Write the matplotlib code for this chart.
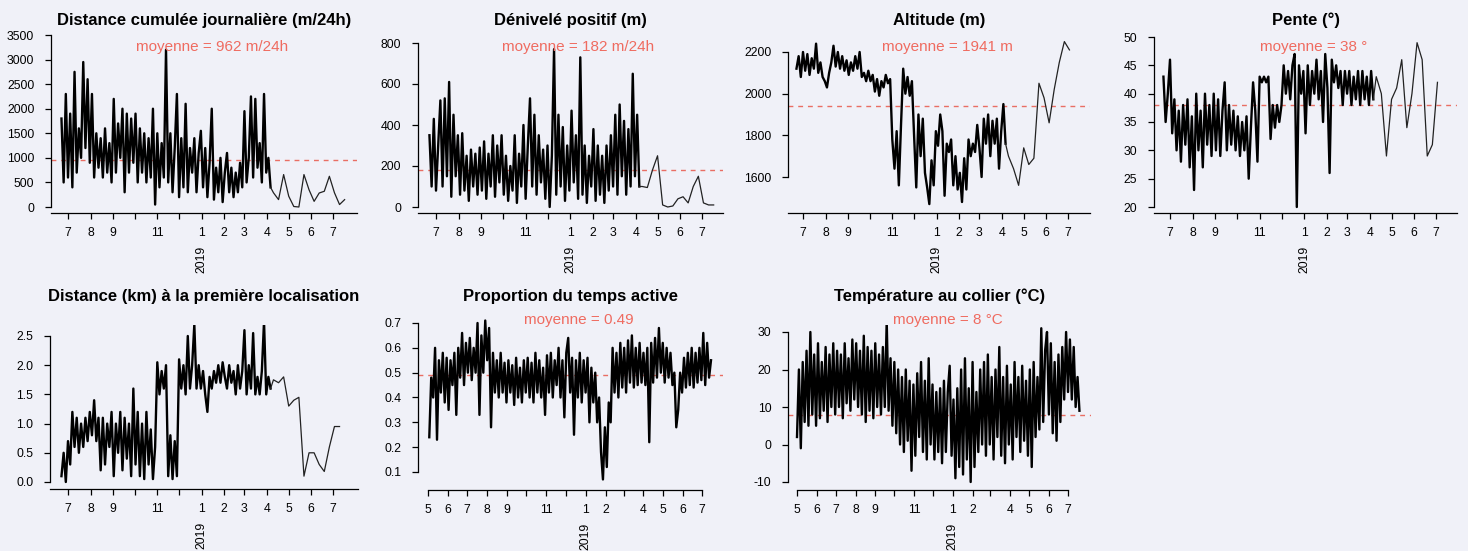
import pandas as pd
import matplotlib
matplotlib.use('Agg')
import matplotlib.pyplot as plt
import matplotlib.dates as mdates

plt.rcParams['font.family'] = ['Liberation Sans', 'DejaVu Sans']

W, H = 1468, 551
fond = '#f0f1f8'
rouge = '#e8574a'
rouge_txt = '#ef6b60'

# ---------------------------------------
# donnees (pas de 3 jours, puis hebdo a partir du 10/04/2019)
dist_j = [1800, 500, 2300, 600, 1900, 400, 2750, 700, 1600, 1000,
          2950, 1200, 2600, 900, 2300, 600, 1500, 800, 1400, 600,
          1600, 700, 1300, 500, 2200, 700, 1700, 1000, 2000, 300,
          1900, 700, 1800, 900, 1900, 500, 1600, 700, 1500, 500,
          1400, 600, 2000, 50, 1500, 400, 1300, 600, 3200, 500,
          1500, 300, 1200, 2300, 200, 1400, 400, 2100, 300, 1200,
          700, 1400, 300, 1100, 1550, 400, 1200, 200, 900, 2000,
          150, 800, 300, 1000, 100, 700, 1100, 300, 800, 200,
          700, 300, 900, 400, 1950, 500, 1000, 2250, 600, 2200,
          800, 1300, 500, 2300, 700, 1000, 400]
dist_j_fin = [290, 150, 660, 220, 10, 0, 660, 350, 115, 285, 320, 625, 290, 50, 150]

deniv = [350, 100, 430, 80, 300, 520, 100, 530, 150, 610,
         50, 450, 150, 350, 60, 360, 80, 250, 30, 280,
         100, 260, 60, 290, 80, 320, 40, 260, 100, 350,
         50, 300, 120, 350, 60, 250, 30, 200, 80, 350,
         20, 260, 100, 400, 40, 300, 530, 100, 450, 60,
         350, 120, 280, 40, 300, 0, 250, 770, 60, 450,
         100, 390, 30, 300, 80, 470, 120, 350, 40, 730,
         60, 300, 20, 250, 100, 380, 30, 300, 60, 250,
         20, 300, 80, 350, 100, 450, 60, 500, 150, 420,
         60, 380, 100, 650, 150, 450, 100]
deniv_fin = [100, 95, 180, 250, 10, 0, 5, 40, 50, 20, 100, 150, 20, 10, 10]

alt = [2120, 2180, 2080, 2200, 2110, 2190, 2090, 2170, 2120, 2240,
       2100, 2150, 2080, 2060, 2030, 2100, 2150, 2230, 2130, 2200,
       2120, 2180, 2110, 2160, 2090, 2150, 2110, 2180, 2120, 2200,
       2080, 2100, 2060, 2110, 2060, 2090, 2010, 2070, 1990, 2060,
       2030, 2090, 2050, 2070, 1780, 1640, 1820, 1560, 1850, 2120,
       2000, 2080, 1990, 2060, 1800, 1550, 1900, 1700, 1880, 1620,
       1550, 1470, 1680, 1560, 1820, 1750, 1900, 1820, 1510, 1760,
       1720, 1780, 1560, 1700, 1540, 1620, 1480, 1690, 1540, 1780,
       1700, 1760, 1720, 1850, 1740, 1600, 1880, 1760, 1900, 1700,
       1870, 1760, 1880, 1640, 1820, 1950, 1760]
alt_fin = [1700, 1640, 1560, 1740, 1660, 1690, 2050, 1980, 1860, 2020, 2150, 2250, 2210]

pente = [43, 35, 40, 46, 33, 39, 30, 37, 28, 38,
         31, 39, 27, 36, 23, 40, 30, 37, 27, 40,
         31, 38, 29, 40, 30, 39, 29, 37, 42, 30,
         38, 31, 37, 30, 36, 29, 35, 30, 36, 25,
         34, 42, 37, 28, 43, 42, 43, 42, 43, 32,
         38, 34, 38, 35, 38, 45, 40, 44, 39, 45,
         47, 20, 45, 40, 44, 33, 45, 38, 44, 40,
         46, 39, 44, 35, 47, 41, 26, 46, 42, 45,
         41, 44, 38, 44, 40, 44, 38, 43, 39, 44,
         38, 44, 39, 43, 38, 44, 39]
pente_fin = [43, 40, 29, 39, 41, 46, 34, 40, 49, 46, 29, 31, 42]

dist_km = [0.1, 0.5, 0.0, 0.7, 0.3, 1.2, 0.6, 1.1, 0.5, 1.0,
           0.6, 1.1, 0.7, 1.2, 0.8, 1.4, 0.7, 1.1, 0.2, 1.1,
           0.3, 1.0, 0.6, 1.2, 0.1, 1.0, 0.5, 1.2, 0.2, 1.1,
           0.4, 1.0, 0.1, 1.6, 0.3, 1.2, 0.1, 1.0, 0.05, 1.2,
           0.3, 0.9, 0.05, 0.6, 2.05, 1.5, 1.9, 1.6, 2.0, 0.1,
           0.8, 0.05, 0.7, 0.1, 2.1, 1.6, 2.0, 1.5, 2.5, 1.6,
           2.0, 2.7, 1.6, 2.0, 1.6, 1.9, 1.5, 1.2, 1.8, 1.6,
           1.9, 1.7, 2.0, 1.7, 2.05, 1.8, 1.6, 2.0, 1.7, 1.9,
           1.5, 2.0, 1.6, 1.9, 2.6, 1.5, 2.0, 1.6, 2.55, 1.5,
           1.8, 1.5, 1.9, 2.75, 1.5, 1.8, 1.6]
dist_km_fin = [1.75, 1.7, 1.8, 1.3, 1.4, 1.45, 0.1, 0.5, 0.5, 0.3, 0.18, 0.6, 0.95, 0.95]

# a partir du 03/05/2018, pas de 3 jours
actif = [0.24, 0.48, 0.40, 0.60, 0.23, 0.55, 0.42, 0.58, 0.38, 0.56,
         0.35, 0.55, 0.45, 0.58, 0.33, 0.60, 0.48, 0.66, 0.45, 0.62,
         0.50, 0.64, 0.47, 0.60, 0.50, 0.70, 0.33, 0.65, 0.50, 0.71,
         0.55, 0.68, 0.28, 0.58, 0.42, 0.55, 0.40, 0.58, 0.42, 0.54,
         0.38, 0.55, 0.42, 0.53, 0.37, 0.56, 0.40, 0.52, 0.38, 0.55,
         0.42, 0.56, 0.40, 0.54, 0.38, 0.58, 0.42, 0.55, 0.40, 0.52,
         0.33, 0.57, 0.42, 0.58, 0.40, 0.55, 0.45, 0.60, 0.40, 0.55,
         0.32, 0.58, 0.64, 0.42, 0.56, 0.25, 0.55, 0.40, 0.58, 0.38,
         0.55, 0.42, 0.56, 0.30, 0.52, 0.38, 0.50, 0.30, 0.40, 0.18,
         0.07, 0.28, 0.12, 0.38, 0.30, 0.60, 0.42, 0.58, 0.40, 0.62,
         0.44, 0.60, 0.42, 0.63, 0.46, 0.65, 0.44, 0.60, 0.45, 0.62,
         0.46, 0.58, 0.45, 0.60, 0.22, 0.62, 0.46, 0.64, 0.48, 0.68,
         0.50, 0.62, 0.46, 0.60, 0.48, 0.58, 0.45, 0.50, 0.28, 0.35,
         0.50, 0.42, 0.56, 0.44, 0.58, 0.45, 0.60, 0.44, 0.58, 0.46,
         0.60, 0.47, 0.66, 0.45, 0.62, 0.48, 0.55]

# a partir du 01/05/2018, pas de 3 jours
temp = [2, 20, -1, 22, 6, 25, 5, 30, 8, 24,
        5, 27, 7, 22, 9, 26, 6, 24, 10, 27,
        8, 25, 10, 24, 7, 27, 11, 23, 9, 28,
        12, 27, 10, 25, 8, 29, 6, 26, 9, 25,
        7, 27, 10, 24, 8, 26, 10, 33, 9, 23,
        5, 22, 3, 20, 0, 18, -2, 20, 1, 17,
        -7, 16, -3, 19, 2, 22, -2, 17, -4, 23,
        0, 16, -4, 14, -2, 15, -5, 17, -2, 14,
        21, -3, 12, -9, 15, -6, 20, -8, 23, -4,
        15, -10, 22, -6, 14, -2, 20, 0, 22, -3,
        24, 0, 18, -4, 20, 2, 26, -3, 18, -5,
        21, 0, 16, -4, 22, 2, 18, -2, 21, 1,
        17, -3, 20, -6, 22, 2, 18, 4, 31, 6,
        25, 30, 8, 27, 3, 22, 1, 24, 6, 26,
        12, 30, 14, 28, 12, 26, 10, 18, 9]

moyennes = {'dist': 962, 'deniv': 182, 'alt': 1941, 'pente': 38, 'actif': 0.49, 'temp': 8}

mois_haut = pd.date_range('2018-07-01', '2019-07-01', freq='MS')
mois_bas = pd.date_range('2018-05-01', '2019-07-01', freq='MS')
lab_haut = ['7', '8', '9', '', '11', '', '1', '2', '3', '4', '5', '6', '7']
lab_bas = ['5', '6', '7', '8', '9', '', '11', '', '1', '2', '', '4', '5', '6', '7']


def serie(debut, vals, vals_fin=None):
    # partie dense (tous les 3 jours) + partie hebdomadaire eventuelle
    d = mdates.date2num(pd.date_range(debut, periods=len(vals), freq='3D'))
    dense = (list(d), list(vals))
    if vals_fin is None:
        return dense, None
    df = mdates.date2num(pd.date_range('2019-04-10', periods=len(vals_fin), freq='7D'))
    fin = ([d[-1]] + list(df), [vals[-1]] + list(vals_fin))
    return dense, fin


def lin(p, p0, v0, p1, v1):
    return v0 + (p - p0) * (v1 - v0) / (p1 - p0)


fig = plt.figure(figsize=(W / 100, H / 100), dpi=100)
fig.patch.set_facecolor(fond)


def panneau(cadre, ycal, xcal, donnees, yticks, ylabs, mois, labs, titre, ytitre,
            moy=None, texte=None, ytexte=None, court=False):
    l, r, t, b = cadre
    ax = fig.add_axes([l / W, 1 - b / H, (r - l) / W, (b - t) / H])
    ax.set_facecolor('none')
    ax.set_ylim(lin(b, *ycal), lin(t, *ycal))
    p0, d0, p1, d1 = xcal
    d0 = mdates.date2num(pd.Timestamp(d0))
    d1 = mdates.date2num(pd.Timestamp(d1))
    ax.set_xlim(lin(l, p0, d0, p1, d1), lin(r, p0, d0, p1, d1))
    if moy is not None:
        ax.axhline(moy, color=rouge, lw=1.0, dashes=(3.5, 3.5), zorder=1, alpha=0.85)
    dense, fin = donnees
    ax.plot(dense[0], dense[1], color='black', lw=1.7, zorder=2)
    if fin is not None:
        ax.plot(fin[0], fin[1], color='#222222', lw=0.9, zorder=2)

    for s in ['top', 'right']:
        ax.spines[s].set_visible(False)
    for s in ['left', 'bottom']:
        ax.spines[s].set_linewidth(0.9)
    ax.set_yticks(yticks)
    ax.set_yticklabels(ylabs)
    ax.spines['left'].set_bounds(yticks[0], yticks[-1])
    xt = mdates.date2num(mois)
    ax.set_xticks(xt)
    ax.set_xticklabels(labs)
    if court:
        ax.spines['bottom'].set_bounds(xt[0], xt[-1])
    ax.tick_params(axis='y', length=4, width=0.9, pad=8, labelsize=8.8)
    ax.tick_params(axis='x', length=4, width=0.9, pad=6, labelsize=8.8)
    ax.annotate('2019', xy=(mdates.date2num(pd.Timestamp('2019-01-01')), 0),
                xycoords=('data', 'axes fraction'), xytext=(0, -23.5),
                textcoords='offset points', rotation=90, ha='center', va='top',
                fontsize=8.8, annotation_clip=False)

    cx = (l + r) / 2
    fig.text(cx / W, 1 - ytitre / H, titre, ha='center', va='center',
             fontsize=12, fontweight='bold')
    if texte is not None:
        fig.text((cx + 8) / W, 1 - ytexte / H, texte, ha='center', va='center',
                 fontsize=11, color=rouge_txt)
    return ax


# ---------------------------------------
# rangee du haut
panneau((51, 357, 30, 213), (207, 0, 35, 3500), (68, '2018-07-01', 333, '2019-07-01'),
        serie('2018-06-22', dist_j, dist_j_fin),
        list(range(0, 3501, 500)), [str(v) for v in range(0, 3501, 500)],
        mois_haut, lab_haut, 'Distance cumulée journalière (m/24h)', 20,
        moyennes['dist'], 'moyenne = 962 m/24h', 47)

panneau((418, 723, 30, 213), (207, 0, 43, 800), (436, '2018-07-01', 702, '2019-07-01'),
        serie('2018-06-22', deniv, deniv_fin),
        [0, 200, 400, 600, 800], ['0', '200', '400', '600', '800'],
        mois_haut, lab_haut, 'Dénivelé positif (m)', 20,
        moyennes['deniv'], 'moyenne = 182 m/24h', 47)

panneau((788, 1090, 30, 213), (177, 1600, 52, 2200), (803, '2018-07-01', 1068, '2019-07-01'),
        serie('2018-06-22', alt, alt_fin),
        [1600, 1800, 2000, 2200], ['1600', '1800', '2000', '2200'],
        mois_haut, lab_haut, 'Altitude (m)', 20,
        moyennes['alt'], 'moyenne = 1941 m', 47)

panneau((1154, 1457, 30, 213), (207, 20, 37, 50), (1170, '2018-07-01', 1436, '2019-07-01'),
        serie('2018-06-22', pente, pente_fin),
        list(range(20, 51, 5)), [str(v) for v in range(20, 51, 5)],
        mois_haut, lab_haut, 'Pente (°)', 20,
        moyennes['pente'], 'moyenne = 38 °', 47)

# ---------------------------------------
# rangee du bas
panneau((50, 358, 325, 489), (482, 0.0, 336, 2.5), (68, '2018-07-01', 333, '2019-07-01'),
        serie('2018-06-22', dist_km, dist_km_fin),
        [0.0, 0.5, 1.0, 1.5, 2.0, 2.5], ['0.0', '0.5', '1.0', '1.5', '2.0', '2.5'],
        mois_haut, lab_haut, 'Distance (km) à la première localisation', 296)

panneau((418, 723, 318, 490), (472, 0.1, 323, 0.7), (428, '2018-05-01', 702, '2019-07-01'),
        serie('2018-05-03', actif),
        [0.1, 0.2, 0.3, 0.4, 0.5, 0.6, 0.7],
        ['0.1', '0.2', '0.3', '0.4', '0.5', '0.6', '0.7'],
        mois_bas, lab_bas, 'Proportion du temps active', 296,
        moyennes['actif'], 'moyenne = 0.49', 320, court=True)

panneau((788, 1091, 325, 490), (482, -10, 332, 30), (797, '2018-05-01', 1068, '2019-07-01'),
        serie('2018-05-01', temp),
        [-10, 0, 10, 20, 30], ['-10', '0', '10', '20', '30'],
        mois_bas, lab_bas, 'Température au collier (°C)', 296,
        moyennes['temp'], 'moyenne = 8 °C', 320, court=True)

fig.savefig('out.png', dpi=100, facecolor=fond)
